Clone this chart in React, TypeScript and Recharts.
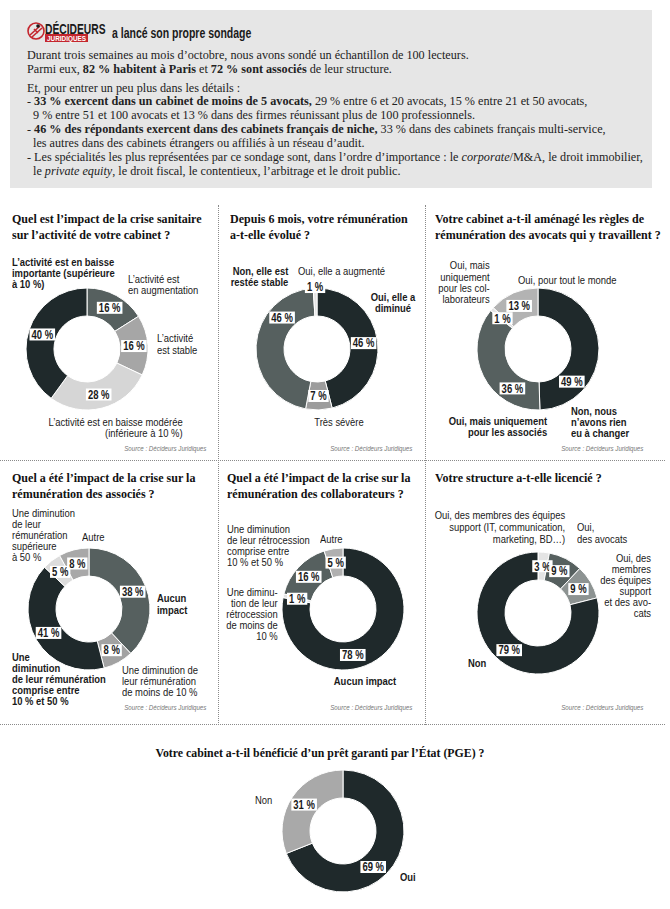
import React from 'react';
import { PieChart, Pie, Cell } from 'recharts';

const SANS = "'Liberation Sans', Arial, sans-serif";
const SERIF = "'Liberation Serif', 'DejaVu Serif', serif";
const SX = 0.82; // condensed look for the sans labels

// ---- data ----
const activityNames = ['L’activité est en augmentation', 'L’activité est stable', 'L’activité est en baisse modérée', 'L’activité est en baisse importante'];
const activityValues = [16, 16, 28, 40];

const payNames = ['Oui, elle a diminué', 'Très sévère', 'Non, elle est restée stable', 'Oui, elle a augmenté'];
const payValues = [46, 7, 46, 1];

const rulesNames = ['Non, nous n’avons rien eu à changer', 'Oui, mais uniquement pour les associés', 'Oui, mais uniquement pour les collaborateurs', 'Oui, pour tout le monde'];
const rulesValues = [49, 36, 1, 13];

const partnersNames = ['Aucun impact', 'Une diminution de moins de 10 %', 'Une diminution comprise entre 10 % et 50 %', 'Une diminution supérieure à 50 %', 'Autre'];
const partnersValues = [38, 8, 41, 5, 8];

const associatesNames = ['Aucun impact', 'Une diminution de moins de 10 %', 'Une diminution comprise entre 10 % et 50 %', 'Autre'];
const associatesValues = [78, 1, 16, 5];

const layoffNames = ['Oui, des membres des équipes support', 'Oui, des avocats', 'Oui, des membres des équipes support et des avocats', 'Non'];
const layoffValues = [3, 9, 9, 79];

const pgeNames = ['Oui', 'Non'];
const pgeValues = [69, 31];

// ---- colours ----
const DARK = '#1f292b';
const SLATE = '#56605f';
const MID = '#a6a6a6';
const LIGHT = '#d6d6d6';
const PALE = '#e4e4e4';

const RAD = Math.PI / 180;
const SIZE = 140;

const toRows = (names: string[], values: number[]) => names.map((n, i) => ({ name: n, value: values[i] }));

const panels = [
  { names: activityNames, values: activityValues, colors: [SLATE, MID, LIGHT, DARK], cx: 87, cy: 349 },
  { names: payNames, values: payValues, colors: [DARK, '#9c9c9c', SLATE, PALE], cx: 317, cy: 349, labelAngle: { 2: 312 }, labelRadius: { 3: 62 } },
  { names: rulesNames, values: rulesValues, colors: [DARK, SLATE, PALE, '#b3b3b3'], cx: 538, cy: 349, labelAngle: { 0: 134, 1: 213 } },
  { names: partnersNames, values: partnersValues, colors: [SLATE, '#a2a2a2', DARK, '#dcdcdc', '#a8a8a8'], cx: 89, cy: 609 },
  { names: associatesNames, values: associatesValues, colors: [DARK, PALE, SLATE, '#b0b0b0'], cx: 343, cy: 609, labelAngle: { 0: 168 } },
  { names: layoffNames, values: layoffValues, colors: [PALE, SLATE, '#8d9392', DARK], cx: 538, cy: 613 },
  { names: pgeNames, values: pgeValues, colors: [DARK, '#a9a9a9'], cx: 343, cy: 831, labelAngle: { 0: 140 } },
];

const titles = [
  { x: 12, y: 219, lines: ['Quel est l’impact de la crise sanitaire', 'sur l’activité de votre cabinet ?'] },
  { x: 230, y: 219, lines: ['Depuis 6 mois, votre rémunération', 'a-t-elle évolué ?'] },
  { x: 435, y: 219, lines: ['Votre cabinet a-t-il aménagé les règles de', 'rémunération des avocats qui y travaillent ?'] },
  { x: 12, y: 478, lines: ['Quel a été l’impact de la crise sur la', 'rémunération des associés ?'] },
  { x: 227, y: 478, lines: ['Quel a été l’impact de la crise sur la', 'rémunération des collaborateurs ?'] },
  { x: 435, y: 478, lines: ['Votre structure a-t-elle licencié ?'] },
];

type Note = { x: number; y: number; lines: string[]; bold?: boolean; align?: 'left' | 'right' | 'center'; lh?: number };

const notes: Note[] = [
  { x: 12, y: 262, lines: ['L’activité est en baisse', 'importante (supérieure', 'à 10 %)'], bold: true },
  { x: 128, y: 279, lines: ['L’activité est', 'en augmentation'] },
  { x: 157, y: 338, lines: ['L’activité', 'est stable'], lh: 12 },
  { x: 183, y: 422, lines: ['L’activité est en baisse modérée', '(inférieure à 10 %)'], align: 'right' },

  { x: 288, y: 271, lines: ['Non, elle est', 'restée stable'], bold: true, align: 'right' },
  { x: 298, y: 271, lines: ['Oui, elle a augmenté'] },
  { x: 393, y: 297, lines: ['Oui, elle a', 'diminué'], bold: true, align: 'center' },
  { x: 339, y: 422, lines: ['Très sévère'], align: 'center' },

  { x: 490, y: 266, lines: ['Oui, mais', 'uniquement', 'pour les col-', 'laborateurs'], align: 'right', lh: 11.3 },
  { x: 518, y: 280, lines: ['Oui, pour tout le monde'] },
  { x: 571, y: 411, lines: ['Non, nous', 'n’avons rien', 'eu à changer'], bold: true },
  { x: 547, y: 421, lines: ['Oui, mais uniquement', 'pour les associés'], bold: true, align: 'right' },

  { x: 12, y: 513, lines: ['Une diminution', 'de leur', 'rémunération', 'supérieure', 'à 50 %'] },
  { x: 82, y: 537, lines: ['Autre'] },
  { x: 157, y: 598, lines: ['Aucun', 'impact'], bold: true, lh: 12 },
  { x: 122, y: 670, lines: ['Une diminution de', 'leur rémunération', 'de moins de 10 %'] },
  { x: 12, y: 657, lines: ['Une', 'diminution', 'de leur rémunération', 'comprise entre', '10 % et 50 %'], bold: true },

  { x: 227, y: 529, lines: ['Une diminution', 'de leur rétrocession', 'comprise entre', '10 % et 50 %'] },
  { x: 320, y: 539, lines: ['Autre'] },
  { x: 278, y: 592, lines: ['Une diminu-', 'tion de leur', 'rétrocession', 'de moins de', '10 %'], align: 'right' },
  { x: 365, y: 681, lines: ['Aucun impact'], bold: true, align: 'center' },

  { x: 565, y: 515, lines: ['Oui, des membres des équipes', 'support (IT, communication,', 'marketing, BD…)'], align: 'right', lh: 12 },
  { x: 577, y: 527, lines: ['Oui,', 'des avocats'], lh: 12 },
  { x: 651, y: 558, lines: ['Oui, des', 'membres', 'des équipes', 'support', 'et des avo-', 'cats'], align: 'right' },
  { x: 468, y: 663, lines: ['Non'], bold: true },

  { x: 255, y: 800, lines: ['Non'] },
  { x: 400, y: 877, lines: ['Oui'], bold: true },
];

const sources = [
  { x: 206, y: 449 }, { x: 412, y: 449 }, { x: 643, y: 449 },
  { x: 206, y: 708 }, { x: 412, y: 708 }, { x: 643, y: 708 },
];

const makeLabel = (panel: any) => (props: any) => {
  const { cx, cy, midAngle, innerRadius, outerRadius, index, value } = props;
  let r = (innerRadius + outerRadius) / 2;
  if (panel.labelRadius && panel.labelRadius[index] !== undefined) r = panel.labelRadius[index];
  let x = cx + r * Math.cos(-midAngle * RAD);
  let y = cy + r * Math.sin(-midAngle * RAD);
  if (panel.labelAngle && panel.labelAngle[index] !== undefined) {
    const a = panel.labelAngle[index] * RAD;
    x = cx + r * Math.sin(a);
    y = cy - r * Math.cos(a);
  }
  const text = `${value} %`;
  const digits = String(value).length;
  const w = 12 * 0.79 * (0.556 * digits + 0.278 + 0.889) + 4;
  return (
    <g key={`lbl-${index}`}>
      <rect x={x - w / 2} y={y - 6} width={w} height={12} fill="#fff" />
      <text
        transform={`translate(${x},${y + 4.3}) scale(0.79,1)`}
        textAnchor="middle"
        fontFamily={SANS}
        fontWeight={700}
        fontSize={12}
        fill="#1a1a1a"
      >
        {text}
      </text>
    </g>
  );
};

function Donut({ panel }: { panel: any }) {
  const data = toRows(panel.names, panel.values);
  return (
    <div style={{ position: 'absolute', left: panel.cx - SIZE / 2, top: panel.cy - SIZE / 2 }}>
      <PieChart width={SIZE} height={SIZE} margin={{ top: 0, right: 0, bottom: 0, left: 0 }}>
        <Pie
          data={data}
          dataKey="value"
          cx={SIZE / 2}
          cy={SIZE / 2}
          innerRadius={33}
          outerRadius={61}
          startAngle={90}
          endAngle={-270}
          stroke="#fff"
          strokeWidth={1}
          isAnimationActive={false}
          labelLine={false}
          label={makeLabel(panel)}
        >
          {data.map((d, i) => (
            <Cell key={`c-${i}`} fill={panel.colors[i]} />
          ))}
        </Pie>
      </PieChart>
    </div>
  );
}

function NoteBlock({ n }: { n: Note }) {
  const lh = n.lh ?? 11;
  const align = n.align ?? 'left';
  const style: React.CSSProperties = {
    position: 'absolute',
    top: n.y - lh / 2,
    fontFamily: SANS,
    fontSize: 11.5,
    lineHeight: `${lh}px`,
    fontWeight: n.bold ? 700 : 400,
    color: '#1a1a1a',
    whiteSpace: 'nowrap',
    textAlign: align,
    transform: `scaleX(${SX})`,
  };
  if (align === 'left') { style.left = n.x; style.transformOrigin = 'left top'; }
  else if (align === 'right') { style.right = 670 - n.x; style.transformOrigin = 'right top'; }
  else { style.left = n.x - 150; style.width = 300; style.transformOrigin = 'center top'; }
  return (
    <div style={style}>
      {n.lines.map((l, i) => (
        <div key={i}>{l}</div>
      ))}
    </div>
  );
}

const headerLines: { y: number; indent?: boolean; parts: [string, string?][] }[] = [
  { y: 55, parts: [['Durant trois semaines au mois d’octobre, nous avons sondé un échantillon de 100 lecteurs.']] },
  { y: 69, parts: [['Parmi eux, '], ['82 % habitent à Paris', 'b'], [' et '], ['72 % sont associés', 'b'], [' de leur structure.']] },
  { y: 88, parts: [['Et, pour entrer un peu plus dans les détails :']] },
  { y: 101, parts: [['- '], ['33 % exercent dans un cabinet de moins de 5 avocats,', 'b'], [' 29 % entre 6 et 20 avocats, 15 % entre 21 et 50 avocats,']] },
  { y: 115, indent: true, parts: [['9 % entre 51 et 100 avocats et 13 % dans des firmes réunissant plus de 100 professionnels.']] },
  { y: 129, parts: [['- '], ['46 % des répondants exercent dans des cabinets français de niche,', 'b'], [' 33 % dans des cabinets français multi-service,']] },
  { y: 143, indent: true, parts: [['les autres dans des cabinets étrangers ou affiliés à un réseau d’audit.']] },
  { y: 157, parts: [['- Les spécialités les plus représentées par ce sondage sont, dans l’ordre d’importance : le '], ['corporate', 'i'], ['/M&A, le droit immobilier,']] },
  { y: 171, indent: true, parts: [['le '], ['private equity', 'i'], [', le droit fiscal, le contentieux, l’arbitrage et le droit public.']] },
];

function Header() {
  return (
    <>
      <div style={{ position: 'absolute', left: 10, top: 10, width: 642, height: 178, background: '#e6e6e6' }} />
      <svg width={300} height={50} style={{ position: 'absolute', left: 0, top: 0 }}>
        <circle cx={36} cy={31} r={8} fill="none" stroke="#c4262e" strokeWidth={1.6} />
        <path d="M30 35 L40 26 M32 37 L42 28 M34 29 L38 33" stroke="#c4262e" strokeWidth={1.6} />
        <circle cx={38} cy={26} r={1.8} fill="#1a1a1a" />
        <text transform="translate(45,34) scale(0.71,1)" fontFamily={SANS} fontWeight={700} fontSize={14.5} fill="#1a1a1a">DÉCIDEURS</text>
        <rect x={45} y={34} width={43} height={8} fill="#c4262e" />
        <text transform="translate(66.5,41) scale(0.8,1)" textAnchor="middle" fontFamily={SANS} fontWeight={700} fontSize={8} fill="#fff">JURIDIQUES</text>
        <text transform="translate(112,38) scale(0.75,1)" fontFamily={SANS} fontWeight={700} fontSize={14} fill="#1a1a1a">a lancé son propre sondage</text>
      </svg>
      {headerLines.map((l, i) => (
        <div
          key={i}
          style={{
            position: 'absolute',
            left: l.indent ? 33 : 27,
            top: l.y - 7,
            fontFamily: SERIF,
            fontSize: 12.2,
            lineHeight: '14px',
            color: '#222',
            whiteSpace: 'nowrap',
          }}
        >
          {l.parts.map((p, j) =>
            p[1] === 'b' ? <b key={j}>{p[0]}</b> : p[1] === 'i' ? <i key={j}>{p[0]}</i> : <span key={j}>{p[0]}</span>
          )}
        </div>
      ))}
    </>
  );
}

const dotted = '1px dotted #8a8a8a';
const TITLE_SX = 0.925;

export default function App() {
  return (
    <div style={{ position: 'absolute', left: 0, top: 0, width: 670, height: 909, background: '#fff', overflow: 'hidden' }}>
      <Header />
      {/* separators */}
      <div style={{ position: 'absolute', left: 218, top: 205, height: 520, borderLeft: dotted }} />
      <div style={{ position: 'absolute', left: 425, top: 205, height: 520, borderLeft: dotted }} />
      <div style={{ position: 'absolute', left: 0, top: 460, width: 665, borderTop: dotted }} />
      <div style={{ position: 'absolute', left: 0, top: 724, width: 665, borderTop: dotted }} />

      {titles.map((t, i) => (
        <div
          key={i}
          style={{
            position: 'absolute',
            left: t.x,
            top: t.y - 8,
            fontFamily: SERIF,
            fontWeight: 700,
            fontSize: 13,
            lineHeight: '16px',
            color: '#111',
            whiteSpace: 'nowrap',
            transform: `scaleX(${TITLE_SX})`,
            transformOrigin: 'left top',
          }}
        >
          {t.lines.map((l, j) => (
            <div key={j}>{l}</div>
          ))}
        </div>
      ))}
      <div
        style={{
          position: 'absolute',
          left: 0,
          width: 640,
          top: 753 - 8,
          textAlign: 'center',
          fontFamily: SERIF,
          fontWeight: 700,
          fontSize: 13,
          lineHeight: '16px',
          color: '#111',
          whiteSpace: 'nowrap',
          transform: 'scaleX(0.91)',
          transformOrigin: 'center top',
        }}
      >
        Votre cabinet a-t-il bénéficié d’un prêt garanti par l’État (PGE) ?
      </div>

      {panels.map((p, i) => (
        <Donut key={i} panel={p} />
      ))}
      {notes.map((n, i) => (
        <NoteBlock key={i} n={n} />
      ))}
      {sources.map((s, i) => (
        <div
          key={i}
          style={{
            position: 'absolute',
            right: 670 - s.x,
            top: s.y - 4,
            fontFamily: SANS,
            fontStyle: 'italic',
            fontSize: 7,
            lineHeight: '8px',
            color: '#777',
            whiteSpace: 'nowrap',
            transform: 'scaleX(0.88)',
            transformOrigin: 'right top',
          }}
        >
          Source : Décideurs Juridiques
        </div>
      ))}
    </div>
  );
}
